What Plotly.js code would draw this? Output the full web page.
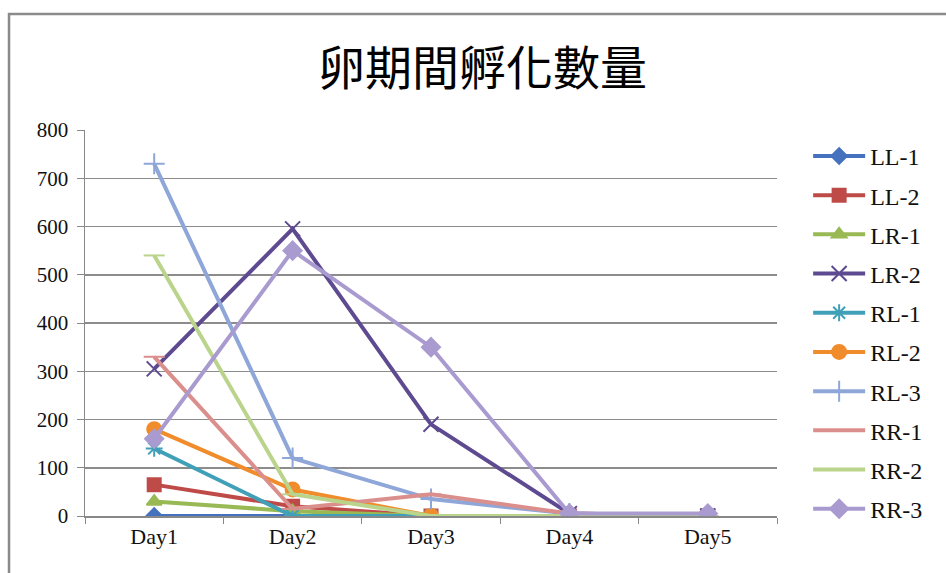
<!DOCTYPE html>
<html>
<head>
<meta charset="utf-8">
<script src="https://cdn.plot.ly/plotly-3.0.1.min.js"></script>
<style>
  html, body { margin: 0; padding: 0; background: #ffffff; }
  #chart { width: 946px; height: 573px; }
</style>
</head>
<body>
<div id="chart"></div>
<script>
// Daily hatch counts per egg batch
const days = ['Day1', 'Day2', 'Day3', 'Day4', 'Day5'];

const LL1 = [0, 0, 0, 0, 0];
const LL2 = [65, 20, 0, 0, 0];
const LR1 = [30, 10, 0, 0, 0];
const LR2 = [305, 595, 190, 5, 0];
const RL1 = [140, 0, 0, 0, 0];
const RL2 = [180, 55, 0, 0, 0];
const RL3 = [730, 120, 35, 5, 0];
const RR1 = [330, 15, 45, 5, 0];
const RR2 = [540, 45, 0, 0, 0];
const RR3 = [160, 550, 350, 5, 5];

const seriesNames = ['LL-1', 'LL-2', 'LR-1', 'LR-2', 'RL-1', 'RL-2', 'RL-3', 'RR-1', 'RR-2', 'RR-3'];
const seriesValues = [LL1, LL2, LR1, LR2, RL1, RL2, RL3, RR1, RR2, RR3];
const seriesColors = ['#4572be', '#be4b48', '#98b954', '#5e4a90', '#40a0b8',
                      '#f08c2c', '#8fa6d8', '#db8f8d', '#bad48c', '#a99bd0'];
const seriesSymbols = ['diamond', 'square', 'triangle-up', 'x-thin-open', 'asterisk-open',
                       'circle', 'cross-thin-open', 'line-ew-open', 'line-ew-open', 'diamond'];
const seriesSizes = [12, 13, 13, 15, 14, 14, 15, 15, 15, 14];

const traces = seriesNames.map((name, i) => ({
  type: 'scatter',
  mode: 'lines+markers',
  name: name,
  legendgroup: name,
  x: days,
  y: seriesValues[i],
  line: { color: seriesColors[i], width: 4 },
  marker: {
    symbol: seriesSymbols[i],
    size: seriesSizes[i],
    color: seriesColors[i],
    line: { color: seriesColors[i], width: 2 }
  }
}));

const serif = 'Liberation Serif, Times New Roman, serif';

const layout = {
  width: 946,
  height: 573,
  margin: { l: 85, r: 169, t: 130, b: 57 },
  paper_bgcolor: '#ffffff',
  plot_bgcolor: '#ffffff',
  showlegend: true,
  title: {
    text: '卵期間孵化數量',
    font: { family: 'Noto Sans CJK TC, sans-serif', size: 47, color: '#000000' },
    x: 0.51, xanchor: 'center',
    y: 0.88, yanchor: 'middle', yref: 'container'
  },
  xaxis: {
    type: 'category',
    range: [-0.5, 4.5],
    tickson: 'boundaries',
    ticks: 'outside',
    ticklen: 6,
    tickcolor: '#888888',
    showgrid: false,
    showline: true,
    linecolor: '#888888',
    linewidth: 1.5,
    zeroline: false,
    tickfont: { family: serif, size: 22, color: '#111111' },
    fixedrange: true
  },
  yaxis: {
    range: [0, 800],
    dtick: 100,
    ticks: 'outside',
    ticklen: 7,
    tickcolor: '#888888',
    showgrid: true,
    gridcolor: '#8c8c8c',
    gridwidth: 1.5,
    showline: true,
    linecolor: '#888888',
    linewidth: 1.5,
    zeroline: false,
    tickfont: { family: serif, size: 21, color: '#111111' },
    ticklabelstandoff: 4,
    fixedrange: true
  },
  legend: {
    x: 1.045, xanchor: 'left',
    y: 0.99, yanchor: 'top',
    font: { family: serif, size: 24, color: '#111111' },
    itemwidth: 52,
    tracegroupgap: 5,
    bgcolor: 'rgba(0,0,0,0)'
  },
  shapes: [{
    type: 'rect',
    xref: 'paper', yref: 'paper',
    x0: -0.1098, x1: 1.30,
    y0: -0.25, y1: 1.3005,
    line: { color: '#8a8a8a', width: 2.5 },
    fillcolor: 'rgba(0,0,0,0)',
    layer: 'below'
  }]
};

Plotly.newPlot('chart', traces, layout, { staticPlot: true, displayModeBar: false });
</script>
</body>
</html>
